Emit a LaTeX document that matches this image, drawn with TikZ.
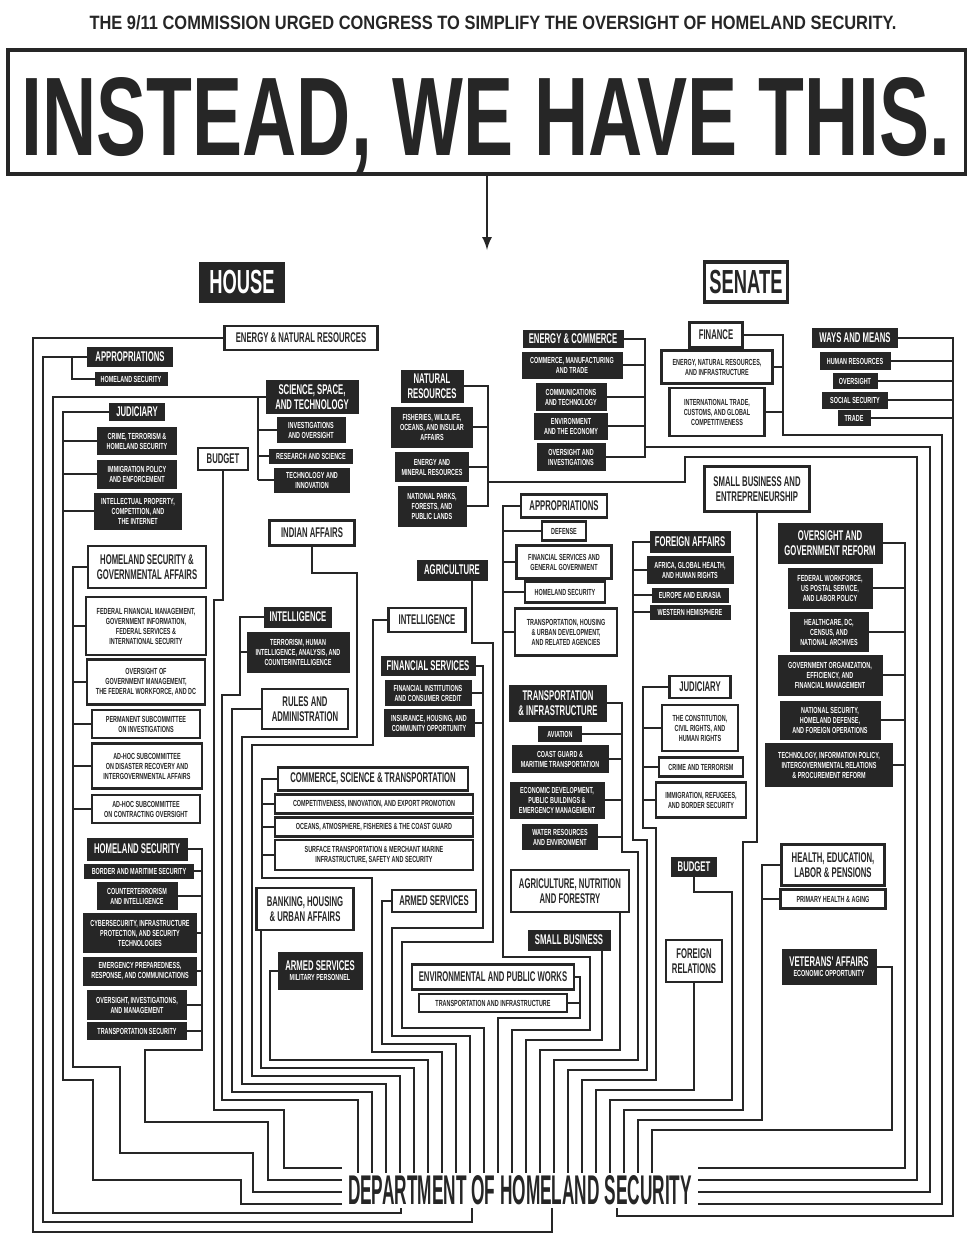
\documentclass[tikz,border=0pt]{standalone}
\usepackage{fontspec}
\usepackage{graphicx}
\usepackage{tikz}
\newfontfamily\ttlfnt{Liberation Sans}[FakeStretch=0.55]
\newfontfamily\subfnt{Liberation Sans}[FakeStretch=0.62]
\definecolor{ink}{HTML}{262626}
\newcommand\subtxt{\subfnt\bfseries\fontsize{5}{5.7}\selectfont}
\newcommand\bigtxt{\ttlfnt\bfseries\fontsize{8}{8.8}\selectfont}
\tikzset{
  wire/.style={draw=ink, line width=1.5pt},
  cbox/.style={align=center, inner sep=1pt},
  dk/.style={cbox, fill=ink, draw=ink, text=white, font=\subtxt},
  lt/.style={cbox, fill=white, draw=ink, line width=1.4pt, text=ink, font=\subtxt},
  big/.style={font=\bigtxt},
  px/.style 2 args={minimum width=#1*0.02cm, minimum height=#2*0.02cm}
}
\begin{document}
\begin{tikzpicture}[x=0.02cm, y=-0.02cm]
\fill[white] (0,0) rectangle (967,1235);
\useasboundingbox (0,0) rectangle (967,1235);

% heading
\node[anchor=base, inner sep=0, text=ink] (sub) at (493,29) {\resizebox{16.14cm}{0.28cm}{\ttlfnt\bfseries THE 9/11 COMMISSION URGED CONGRESS TO SIMPLIFY THE OVERSIGHT OF HOMELAND SECURITY.}};
\node[draw=ink, line width=1.8pt, px={958}{124}] (head) at (487,112) {};
\node[anchor=base, inner sep=0, text=ink] (headtxt) at (486,155) {\resizebox{18.56cm}{1.56cm}{\ttlfnt\bfseries INSTEAD, WE HAVE THIS.}};
\coordinate (arw) at (487,250);
\draw[wire, >=latex, ->] (head.south) -- (arw);
\node[dk, font=\ttlfnt\bfseries\fontsize{19}{20}\selectfont, px={85}{40}] (house) at (242,282) {HOUSE};
\node[lt, line width=1.8pt, font=\ttlfnt\bfseries\fontsize{19}{20}\selectfont, px={83}{40}] (senate) at (746,282) {SENATE};

% department
\node[anchor=base, inner sep=0, text=ink] (dhs) at (520,1204) {\resizebox{6.88cm}{0.58cm}{\ttlfnt\bfseries DEPARTMENT OF HOMELAND SECURITY}};
\foreach \i in {0,...,21} \coordinate (t\i) at ({358+14*\i},1173);
\coordinate (la) at (342,1168); \coordinate (lb) at (342,1180);
\coordinate (lc) at (342,1192); \coordinate (ld) at (342,1204);
\coordinate (ra) at (698,1168); \coordinate (rb) at (698,1180);
\coordinate (rc) at (698,1192); \coordinate (rd) at (698,1204);
\coordinate (b1) at (401,1208); \coordinate (b2) at (472,1208);
\coordinate (b3) at (552,1208); \coordinate (b4) at (617,1208);

% left column
\node[lt,big,px={153}{24}] (enr) at (301,338) {ENERGY \& NATURAL RESOURCES};
\node[dk,big,px={85}{19}] (aph) at (130,357) {APPROPRIATIONS};
\node[dk,px={72}{13}] (aphs) at (131,379) {HOMELAND SECURITY};
\node[dk,big,px={92}{33}] (sst) at (312,397) {SCIENCE, SPACE,\\AND TECHNOLOGY};
\node[dk,px={68}{25}] (ssti) at (311,430) {INVESTIGATIONS\\AND OVERSIGHT};
\node[dk,px={83}{14}] (sstr) at (311,456) {RESEARCH AND SCIENCE};
\node[dk,px={75}{24}] (ssto) at (312,480) {TECHNOLOGY AND\\INNOVATION};
\node[dk,big,px={55}{17}] (judh) at (137,412) {JUDICIARY};
\node[dk,px={79}{27}] (judh1) at (137,441) {CRIME, TERRORISM \&\\HOMELAND SECURITY};
\node[dk,px={79}{28}] (judh2) at (137,474) {IMMIGRATION POLICY\\AND ENFORCEMENT};
\node[dk,px={87}{36}] (judh3) at (138,511) {INTELLECTUAL PROPERTY,\\COMPETITION, AND\\THE INTERNET};
\node[lt,big,px={50}{22}] (budh) at (223,459) {BUDGET};
\node[lt,big,px={85}{25}] (ind) at (312,533) {INDIAN AFFAIRS};
\node[lt,big,px={118}{42}] (hsga) at (147,567) {HOMELAND SECURITY \&\\GOVERNMENTAL AFFAIRS};
\node[lt,px={120}{58}] (hsga1) at (146,626) {FEDERAL FINANCIAL MANAGEMENT,\\GOVERNMENT INFORMATION,\\FEDERAL SERVICES \&\\INTERNATIONAL SECURITY};
\node[lt,px={118}{45}] (hsga2) at (146,682) {OVERSIGHT OF\\GOVERNMENT MANAGEMENT,\\THE FEDERAL WORKFORCE, AND DC};
\node[lt,px={108}{28}] (hsga3) at (146,724) {PERMANENT SUBCOMMITTEE\\ON INVESTIGATIONS};
\node[lt,px={110}{45}] (hsga4) at (147,766) {AD-HOC SUBCOMMITTEE\\ON DISASTER RECOVERY AND\\INTERGOVERNMENTAL AFFAIRS};
\node[lt,px={108}{28}] (hsga5) at (146,809) {AD-HOC SUBCOMMITTEE\\ON CONTRACTING OVERSIGHT};
\node[dk,big,px={100}{22}] (hsh) at (137,849) {HOMELAND SECURITY};
\node[dk,px={109}{14}] (hsh1) at (139,871) {BORDER AND MARITIME SECURITY};
\node[dk,px={80}{27}] (hsh2) at (137,896) {COUNTERTERRORISM\\AND INTELLIGENCE};
\node[dk,px={113}{39}] (hsh3) at (140,933) {CYBERSECURITY, INFRASTRUCTURE\\PROTECTION, AND SECURITY\\TECHNOLOGIES};
\node[dk,px={113}{28}] (hsh4) at (140,971) {EMERGENCY PREPAREDNESS,\\RESPONSE, AND COMMUNICATIONS};
\node[dk,px={99}{29}] (hsh5) at (137,1005) {OVERSIGHT, INVESTIGATIONS,\\AND MANAGEMENT};
\node[dk,px={99}{17}] (hsh6) at (137,1031) {TRANSPORTATION SECURITY};

% middle
\node[dk,big,px={67}{20}] (inth) at (298,617) {INTELLIGENCE};
\node[dk,px={102}{40}] (inth1) at (298,652) {TERRORISM, HUMAN\\INTELLIGENCE, ANALYSIS, AND\\COUNTERINTELLIGENCE};
\node[lt,big,px={86}{40}] (rul) at (305,709) {RULES AND\\ADMINISTRATION};
\node[lt,big,px={190}{23}] (cst) at (373,779) {COMMERCE, SCIENCE \& TRANSPORTATION};
\node[lt,px={198}{19}] (cst1) at (374,804) {COMPETITIVENESS, INNOVATION, AND EXPORT PROMOTION};
\node[lt,px={198}{19}] (cst2) at (374,827) {OCEANS, ATMOSPHERE, FISHERIES \& THE COAST GUARD};
\node[lt,px={198}{30}] (cst3) at (374,855) {SURFACE TRANSPORTATION \& MERCHANT MARINE\\INFRASTRUCTURE, SAFETY AND SECURITY};
\node[lt,big,px={97}{42}] (bank) at (305,909) {BANKING, HOUSING\\\& URBAN AFFAIRS};
\node[dk,px={84}{37}] (armh) at (320,971) {{\bigtxt ARMED SERVICES}\\MILITARY PERSONNEL};
\node[lt,big,px={84}{22}] (arms) at (434,901) {ARMED SERVICES};
\node[lt,big,px={77}{24}] (ints) at (427,620) {INTELLIGENCE};
\node[dk,big,px={94}{19}] (fin) at (428,666) {FINANCIAL SERVICES};
\node[dk,px={86}{25}] (fin1) at (428,693) {FINANCIAL INSTITUTIONS\\AND CONSUMER CREDIT};
\node[dk,px={90}{27}] (fin2) at (429,723) {INSURANCE, HOUSING, AND\\COMMUNITY OPPORTUNITY};
\node[dk,big,px={70}{20}] (agr) at (452,570) {AGRICULTURE};
\node[dk,big,px={62}{32}] (nr) at (432,386) {NATURAL\\RESOURCES};
\node[dk,px={81}{40}] (nr1) at (432,427) {FISHERIES, WILDLIFE,\\OCEANS, AND INSULAR\\AFFAIRS};
\node[dk,px={73}{29}] (nr2) at (432,467) {ENERGY AND\\MINERAL RESOURCES};
\node[dk,px={68}{40}] (nr3) at (432,506) {NATIONAL PARKS,\\FORESTS, AND\\PUBLIC LANDS};
\node[lt,big,px={162}{25}] (epw) at (493,977) {ENVIRONMENTAL AND PUBLIC WORKS};
\node[lt,px={148}{18}] (epw1) at (493,1003) {TRANSPORTATION AND INFRASTRUCTURE};

% right column
\node[dk,big,px={100}{17}] (ec) at (573,339) {ENERGY \& COMMERCE};
\node[dk,px={100}{26}] (ec1) at (572,365) {COMMERCE, MANUFACTURING\\AND TRADE};
\node[dk,px={70}{27}] (ec2) at (571,397) {COMMUNICATIONS\\AND TECHNOLOGY};
\node[dk,px={73}{26}] (ec3) at (571,426) {ENVIRONMENT\\AND THE ECONOMY};
\node[dk,px={68}{27}] (ec4) at (571,457) {OVERSIGHT AND\\INVESTIGATIONS};
\node[lt,big,px={53}{25}] (fi) at (716,335) {FINANCE};
\node[lt,px={111}{33}] (fi1) at (717,367) {ENERGY, NATURAL RESOURCES,\\AND INFRASTRUCTURE};
\node[lt,px={95}{48}] (fi2) at (717,412) {INTERNATIONAL TRADE,\\CUSTOMS, AND GLOBAL\\COMPETITIVENESS};
\node[dk,big,px={85}{19}] (wm) at (855,338) {WAYS AND MEANS};
\node[dk,px={70}{17}] (wm1) at (855,361) {HUMAN RESOURCES};
\node[dk,px={44}{15}] (wm2) at (855,381) {OVERSIGHT};
\node[dk,px={65}{16}] (wm3) at (855,400) {SOCIAL SECURITY};
\node[dk,px={32}{15}] (wm4) at (854,418) {TRADE};
\node[lt,big,px={105}{45}] (sbe) at (757,489) {SMALL BUSINESS AND\\ENTREPRENEURSHIP};
\node[lt,big,px={86}{23}] (aps) at (564,506) {APPROPRIATIONS};
\node[lt,px={44}{19}] (aps1) at (564,531) {DEFENSE};
\node[lt,px={95}{33}] (aps2) at (564,562) {FINANCIAL SERVICES AND\\GENERAL GOVERNMENT};
\node[lt,px={80}{21}] (aps3) at (565,592) {HOMELAND SECURITY};
\node[lt,px={102}{47}] (aps4) at (566,632) {TRANSPORTATION, HOUSING\\\& URBAN DEVELOPMENT,\\AND RELATED AGENCIES};
\node[dk,big,px={80}{21}] (fa) at (690,542) {FOREIGN AFFAIRS};
\node[dk,px={86}{27}] (fa1) at (690,570) {AFRICA, GLOBAL HEALTH,\\AND HUMAN RIGHTS};
\node[dk,px={76}{14}] (fa2) at (690,595) {EUROPE AND EURASIA};
\node[dk,px={80}{14}] (fa3) at (690,612) {WESTERN HEMISPHERE};
\node[dk,big,px={104}{40}] (ogr) at (830,543) {OVERSIGHT AND\\GOVERNMENT REFORM};
\node[dk,px={84}{40}] (ogr1) at (830,588) {FEDERAL WORKFORCE,\\US POSTAL SERVICE,\\AND LABOR POLICY};
\node[dk,px={78}{39}] (ogr2) at (829,632) {HEALTHCARE, DC,\\CENSUS, AND\\NATIONAL ARCHIVES};
\node[dk,px={104}{40}] (ogr3) at (830,675) {GOVERNMENT ORGANIZATION,\\EFFICIENCY, AND\\FINANCIAL MANAGEMENT};
\node[dk,px={100}{38}] (ogr4) at (830,720) {NATIONAL SECURITY,\\HOMELAND DEFENSE,\\AND FOREIGN OPERATIONS};
\node[dk,px={127}{43}] (ogr5) at (829,765) {TECHNOLOGY, INFORMATION POLICY,\\INTERGOVERNMENTAL RELATIONS\\\& PROCUREMENT REFORM};
\node[dk,big,px={97}{36}] (ti) at (558,703) {TRANSPORTATION\\\& INFRASTRUCTURE};
\node[dk,px={43}{15}] (ti1) at (560,734) {AVIATION};
\node[dk,px={96}{27}] (ti2) at (560,759) {COAST GUARD \&\\MARITIME TRANSPORTATION};
\node[dk,px={94}{36}] (ti3) at (557,800) {ECONOMIC DEVELOPMENT,\\PUBLIC BUILDINGS \&\\EMERGENCY MANAGEMENT};
\node[dk,px={75}{25}] (ti4) at (560,837) {WATER RESOURCES\\AND ENVIRONMENT};
\node[lt,big,px={61}{22}] (jus) at (700,687) {JUDICIARY};
\node[lt,px={76}{46}] (jus1) at (700,728) {THE CONSTITUTION,\\CIVIL RIGHTS, AND\\HUMAN RIGHTS};
\node[lt,px={84}{19}] (jus2) at (701,767) {CRIME AND TERRORISM};
\node[lt,px={90}{35}] (jus3) at (701,800) {IMMIGRATION, REFUGEES,\\AND BORDER SECURITY};
\node[lt,big,px={118}{42}] (agnf) at (570,891) {AGRICULTURE, NUTRITION\\AND FORESTRY};
\node[dk,big,px={82}{20}] (sb) at (569,940) {SMALL BUSINESS};
\node[dk,big,px={45}{19}] (buds) at (694,867) {BUDGET};
\node[lt,big,px={56}{42}] (fr) at (694,961) {FOREIGN\\RELATIONS};
\node[lt,big,px={103}{41}] (help) at (833,865) {HEALTH, EDUCATION,\\LABOR \& PENSIONS};
\node[lt,px={105}{19}] (help1) at (833,899) {PRIMARY HEALTH \& AGING};
\node[dk,px={94}{35}] (vet) at (829,967) {{\bigtxt VETERANS' AFFAIRS}\\ECONOMIC OPPORTUNITY};

% house side lines
\draw[wire] (enr.west) -| (33,1232) -| (b3);
\draw[wire] (aph.west) -| (43,1222) -| (b2);
\draw[wire] (72,0 |- aph.west) |- (aphs.west);
\draw[wire] (sst.west) -| (53,1213) -| (b1);
\draw[wire] (258,0 |- sst.west) -- (258,0 |- ssto.west);
\foreach \n in {ssti,sstr,ssto} \draw[wire] (\n.west) -- (258,0 |- \n.west);
\draw[wire] (judh.west) -| (63,1080) -| (93,1180) -| (241,1204) -- (ld);
\foreach \i in {1,2,3} \draw[wire] (judh\i.west) -- (63,0 |- judh\i.west);
\draw[wire] (hsga.west) -| (73,1067) -| (120,1153) -| (253,1192) -- (lc);
\foreach \i in {1,...,5} \draw[wire] (hsga\i.west) -- (73,0 |- hsga\i.west);
\draw[wire] (hsh.east) -| (202,1050) -| (145,1122) -| (268,1180) -- (lb);
\foreach \i in {1,...,6} \draw[wire] (hsh\i.east) -- (202,0 |- hsh\i.east);
\draw[wire] (budh.south) |- (214,600) |- (284,1110) |- (la);

% middle lines
\draw[wire] (inth.west) -| (240,695) -| (222,1100) -| (t0);
\draw[wire] (inth1.west) -- (240,0 |- inth1.west);
\draw[wire] (rul.west) -| (232,1092) -| (t1);
\draw[wire] (ind.south) |- (357,573) |- (242,737) |- (386,1084) -- (t2);
\draw[wire] (ints.west) -| (373,745) -| (252,1076) -| (t3);
\draw[wire] (261,0 |- bank.south) -- (261,1068) -| (t4);
\draw[wire] (armh.west) -| (270,1060) -| (t5);
\draw[wire] (cst.west) -| (262,878) -| (372,1052) -| (t6);
\foreach \i in {1,2,3} \draw[wire] (cst\i.west) -- (262,0 |- cst\i.west);
\draw[wire] (arms.west) -| (382,1044) -| (t7);
\draw[wire] (fin.east) -| (483,928) -| (392,1036) -| (t8);
\foreach \i in {1,2} \draw[wire] (fin\i.east) -- (483,0 |- fin\i.east);
\draw[wire] (472,0 |- agr.south) |- (493,643) |- (402,942) -- (402,1028) -| (t9);
\draw[wire] (epw.east) -| (580,1018) -| (t10);
\draw[wire] (epw1.east) -- (580,0 |- epw1.east);
\draw[wire] (aps.west) -| (503,957) -| (590,1030) -| (t11);
\foreach \i in {1,...,4} \draw[wire] (aps\i.west) -- (503,0 |- aps\i.west);
\draw[wire] (602,0 |- sb.south) -- (602,1040) -| (t12);
\draw[wire] (620,0 |- agnf.south) -- (620,1050) -| (t13);
\draw[wire] (ti.east) -| (622,852) -| (638,1060) -| (t14);
\foreach \i in {1,...,4} \draw[wire] (ti\i.east) -- (622,0 |- ti\i.east);
\draw[wire] (fa.west) -| (633,840) -| (647,1070) -| (t15);
\foreach \i in {1,2,3} \draw[wire] (fa\i.west) -- (633,0 |- fa\i.west);
\draw[wire] (jus.west) -| (643,828) -| (656,1080) -| (t16);
\foreach \i in {1,2,3} \draw[wire] (jus\i.west) -- (643,0 |- jus\i.west);
\draw[wire] (fr.south) -- (694,1090) -| (t17);
\draw[wire] (buds.south) |- (732,892) -- (732,1100) -| (t18);
\draw[wire] (sbe.south) |- (743,842) -- (743,1110) -| (t19);
\draw[wire] (help.west) -| (762,1120) -| (t20);
\draw[wire] (help1.west) -- (762,0 |- help1.west);
\draw[wire] (vet.east) -| (892,1130) -| (t21);

% senate side lines
\draw[wire] (ogr.east) -| (905,1168) -- (ra);
\foreach \i in {1,...,5} \draw[wire] (ogr\i.east) -- (905,0 |- ogr\i.east);
\draw[wire] (nr.east) -| (488,482) -| (685,457) -| (917,1180) -- (rb);
\draw[wire] (488,0 |- nr.east) |- (nr3.east);
\foreach \i in {1,2} \draw[wire] (nr\i.east) -- (488,0 |- nr\i.east);
\draw[wire] (ec.east) -| (645,447) -| (930,1192) -- (rc);
\draw[wire] (645,0 |- ec.east) |- (ec4.east);
\foreach \i in {1,2,3} \draw[wire] (ec\i.east) -- (645,0 |- ec\i.east);
\draw[wire] (fi.east) -| (783,435) -| (942,1204) -- (rd);
\foreach \i in {1,2} \draw[wire] (fi\i.east) -- (783,0 |- fi\i.east);
\draw[wire] (wm.east) -| (953,1216) -| (b4);
\foreach \i in {1,...,4} \draw[wire] (wm\i.east) -- (953,0 |- wm\i.east);
\end{tikzpicture}
\end{document}
